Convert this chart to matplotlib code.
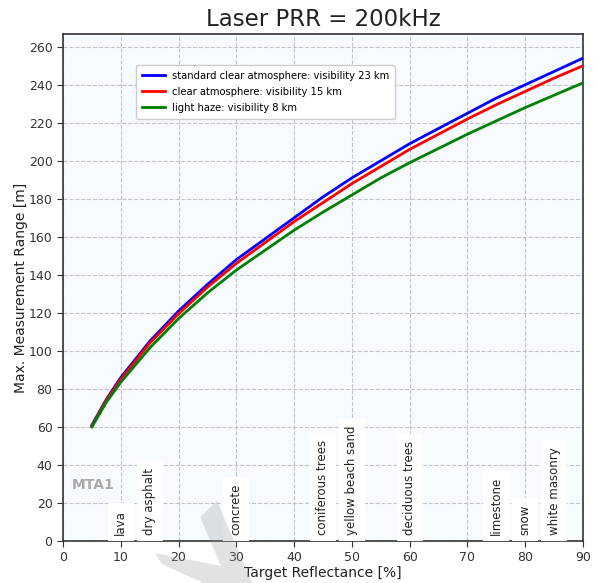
import matplotlib
matplotlib.use("Agg")
import matplotlib.pyplot as plt
from matplotlib.patches import Polygon
import numpy as np

reflectance = [5, 7.5, 10, 15, 20, 25, 30, 35, 40, 45, 50, 55, 60, 65, 70, 75, 80, 85, 90]
range_23km = [61, 74.5, 86, 105, 121, 135, 148, 159, 170, 181, 191, 200, 209, 217, 225, 233, 240, 247, 254]
range_15km = [60.5, 74, 85, 104, 119.5, 133.5, 146, 157, 168, 178, 188, 197, 206, 214, 222, 229.5, 236.5, 243.5, 250]
range_8km = [60, 73, 83.5, 101.5, 117, 130.5, 142.5, 153, 163.5, 173, 182, 191, 199, 206.5, 214, 221, 228, 234.5, 241]
series_labels = ["standard clear atmosphere: visibility 23 km",
                 "clear atmosphere: visibility 15 km",
                 "light haze: visibility 8 km"]

materials = ["lava", "dry asphalt", "concrete", "coniferous trees", "yellow beach sand",
             "deciduous trees", "limestone", "snow", "white masonry"]
material_refl = [10, 15, 30, 45, 50, 60, 75, 80, 85]

fig = plt.figure(figsize=(5.99, 5.83), dpi=100)
ax = fig.add_axes([63/599, 1-541/583, (583-63)/599, (541-34)/583])
ax.set_facecolor("#f7fbff")

ax.plot(reflectance, range_23km, color="blue", lw=2, label=series_labels[0], zorder=3)
ax.plot(reflectance, range_15km, color="red", lw=2, label=series_labels[1], zorder=3)
ax.plot(reflectance, range_8km, color="green", lw=2, label=series_labels[2], zorder=3)

ax.set_xlim(0, 90)
ax.set_ylim(0, max(range_23km) * 1.05)
ax.set_xticks(np.arange(0, 91, 10))
ax.set_yticks(np.arange(0, 261, 20))
ax.grid(True, color="#c4c4c4", ls="--", lw=0.8)
ax.set_axisbelow(True)
for s in ax.spines.values():
    s.set_color("#333333")
    s.set_linewidth(1.2)
ax.tick_params(labelsize=9, colors="#333333", length=4)

ax.set_title("Laser PRR = 200kHz", fontsize=16.5, color="#222222", pad=6)
ax.set_xlabel("Target Reflectance [%]", fontsize=10, color="#222222", labelpad=1)
ax.set_ylabel("Max. Measurement Range [m]", fontsize=10, color="#222222", labelpad=0.5)

leg = ax.legend(loc="upper left", bbox_to_anchor=(0.140, 0.939), borderaxespad=0,
                fontsize=7.2, frameon=True, fancybox=True, framealpha=1, edgecolor="#cccccc",
                handlelength=2.3, handletextpad=0.7, borderpad=0.6, labelspacing=0.6)

for name, x in zip(materials, material_refl):
    ax.text(x, 3.3, name, rotation=90, ha="center", va="bottom", fontsize=8.5,
            color="#222222", zorder=5, clip_on=False,
            bbox=dict(boxstyle="square,pad=0.55", fc="white", ec="none"))

ax.text(1.5, 29.5, "MTA1", fontsize=10, fontweight="bold", color="#aaaaaa",
        ha="left", va="center")

pts = [(155, 553), (221, 566), (200, 517), (217, 501), (252, 583), (203, 583), (162, 564)]
poly = Polygon([(px/599, 1 - py/583) for px, py in pts], closed=True,
               transform=fig.transFigure, fc="#999999", ec="none", alpha=0.28, zorder=10)
fig.add_artist(poly)

fig.savefig("out.png", dpi=100)
